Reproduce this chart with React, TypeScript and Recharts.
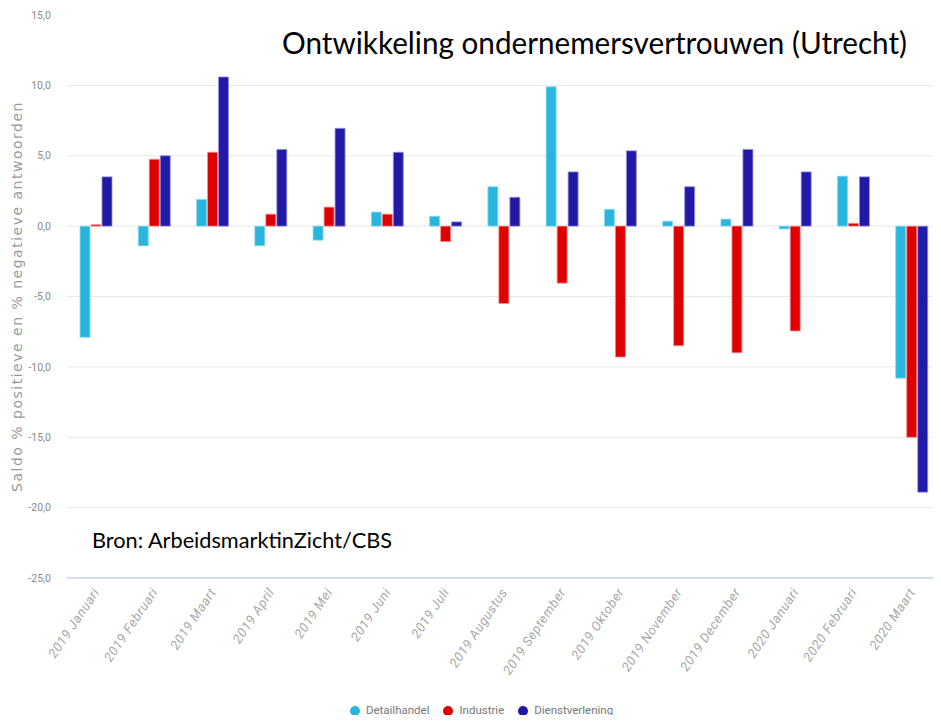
import React from "react";
import { BarChart, Bar, XAxis, YAxis, CartesianGrid, Legend } from "recharts";

const MONTHS = [
  "2019 Januari",
  "2019 Februari",
  "2019 Maart",
  "2019 April",
  "2019 Mei",
  "2019 Juni",
  "2019 Juli",
  "2019 Augustus",
  "2019 September",
  "2019 Oktober",
  "2019 November",
  "2019 December",
  "2020 Januari",
  "2020 Februari",
  "2020 Maart",
];

const DETAILHANDEL = [-7.9, -1.4, 1.9, -1.4, -1.0, 1.0, 0.7, 2.8, 9.9, 1.2, 0.35, 0.5, -0.2, 3.55, -10.8];
const INDUSTRIE = [0.1, 4.75, 5.25, 0.85, 1.35, 0.85, -1.1, -5.5, -4.05, -9.3, -8.5, -9.0, -7.45, 0.2, -15.0];
const DIENSTVERLENING = [3.5, 5.0, 10.6, 5.45, 6.95, 5.25, 0.3, 2.05, 3.85, 5.35, 2.8, 5.45, 3.85, 3.5, -18.9];

const SERIES = ["Detailhandel", "Industrie", "Dienstverlening"];
const Y_TICKS = [15, 10, 5, 0, -5, -10, -15, -20, -25];

const data = MONTHS.map((m, i) => ({
  month: m,
  Detailhandel: DETAILHANDEL[i],
  Industrie: INDUSTRIE[i],
  Dienstverlening: DIENSTVERLENING[i],
}));

const fmt = (v: number) => v.toFixed(1).replace(".", ",");

function MonthTick({ x, y, payload }: any) {
  return (
    <g transform={`translate(${x + 4},${y + 6})`}>
      <text
        x={0}
        y={0}
        textAnchor="end"
        fill="#a8a8a8"
        fontSize={13}
        letterSpacing={0.6}
        fontStyle="italic"
        fontFamily="Roboto, sans-serif"
        transform="rotate(-56)"
      >
        {payload.value}
      </text>
    </g>
  );
}

export default function App() {
  return (
    <div style={{ position: "relative", width: 941, height: 723, margin: -8, background: "#fff" }}>
      <div style={{ position: "absolute", left: 37, top: 0, width: 904, height: 3, background: "#d9d9d9" }} />
      <BarChart
        width={941}
        height={723}
        data={data}
        margin={{ top: 15, right: 0, bottom: 25, left: 0 }}
        barSize={10}
        barGap={1}
      >
        <CartesianGrid vertical={false} stroke="#e9e9e9" horizontalValues={[10, 5, 0, -5, -10, -15, -20]} />
        <XAxis
          dataKey="month"
          interval={0}
          height={100}
          tickLine={false}
          axisLine={{ stroke: "#d3def2", strokeWidth: 2 }}
          tick={<MonthTick />}
        />
        <YAxis
          width={67}
          domain={[-25, 15]}
          ticks={Y_TICKS}
          tickFormatter={fmt}
          tickLine={false}
          axisLine={false}
          tickMargin={10}
          tick={{ fill: "#8a8a8a", fontSize: 10.5, fontFamily: "Roboto, sans-serif" }}
          label={{
            value: "Saldo % positieve en % negatieve antwoorden",
            angle: -90,
            position: "center",
            dx: -16,
            fill: "#9a9a9a",
            fontSize: 14,
            letterSpacing: 1.5,
            fontFamily: "DejaVu Sans, sans-serif",
          }}
        />
        <Legend
          verticalAlign="bottom"
          height={20}
          iconType="circle"
          iconSize={10}
          itemSorter={(item: any) => SERIES.indexOf(item.value)}
          wrapperStyle={{ bottom: 0, left: 18, fontSize: 11.5, fontFamily: "Roboto, sans-serif" }}
          formatter={(v: string) => <span style={{ color: "#777", marginLeft: 2, marginRight: 4 }}>{v}</span>}
        />
        <Bar dataKey="Detailhandel" fill="#29b6de" stroke="#8fd8ee" strokeWidth={0.8} isAnimationActive={false} />
        <Bar dataKey="Industrie" fill="#df0000" stroke="#f09090" strokeWidth={0.8} isAnimationActive={false} />
        <Bar dataKey="Dienstverlening" fill="#221aa6" stroke="#9490d6" strokeWidth={0.8} isAnimationActive={false} />
      </BarChart>
      <svg
        width={941}
        height={723}
        style={{ position: "absolute", left: 0, top: 0, pointerEvents: "none" }}
      >
        <text
          x={282}
          y={54}
          fontSize={31}
          fontFamily="Lato, sans-serif"
          fill="#000"
          textLength={625}
          lengthAdjust="spacingAndGlyphs"
        >
          Ontwikkeling ondernemersvertrouwen (Utrecht)
        </text>
        <text
          x={92}
          y={548}
          fontSize={21}
          fontFamily="Lato, sans-serif"
          fill="#000"
          textLength={300}
          lengthAdjust="spacingAndGlyphs"
        >
          Bron: ArbeidsmarktinZicht/CBS
        </text>
      </svg>
    </div>
  );
}
